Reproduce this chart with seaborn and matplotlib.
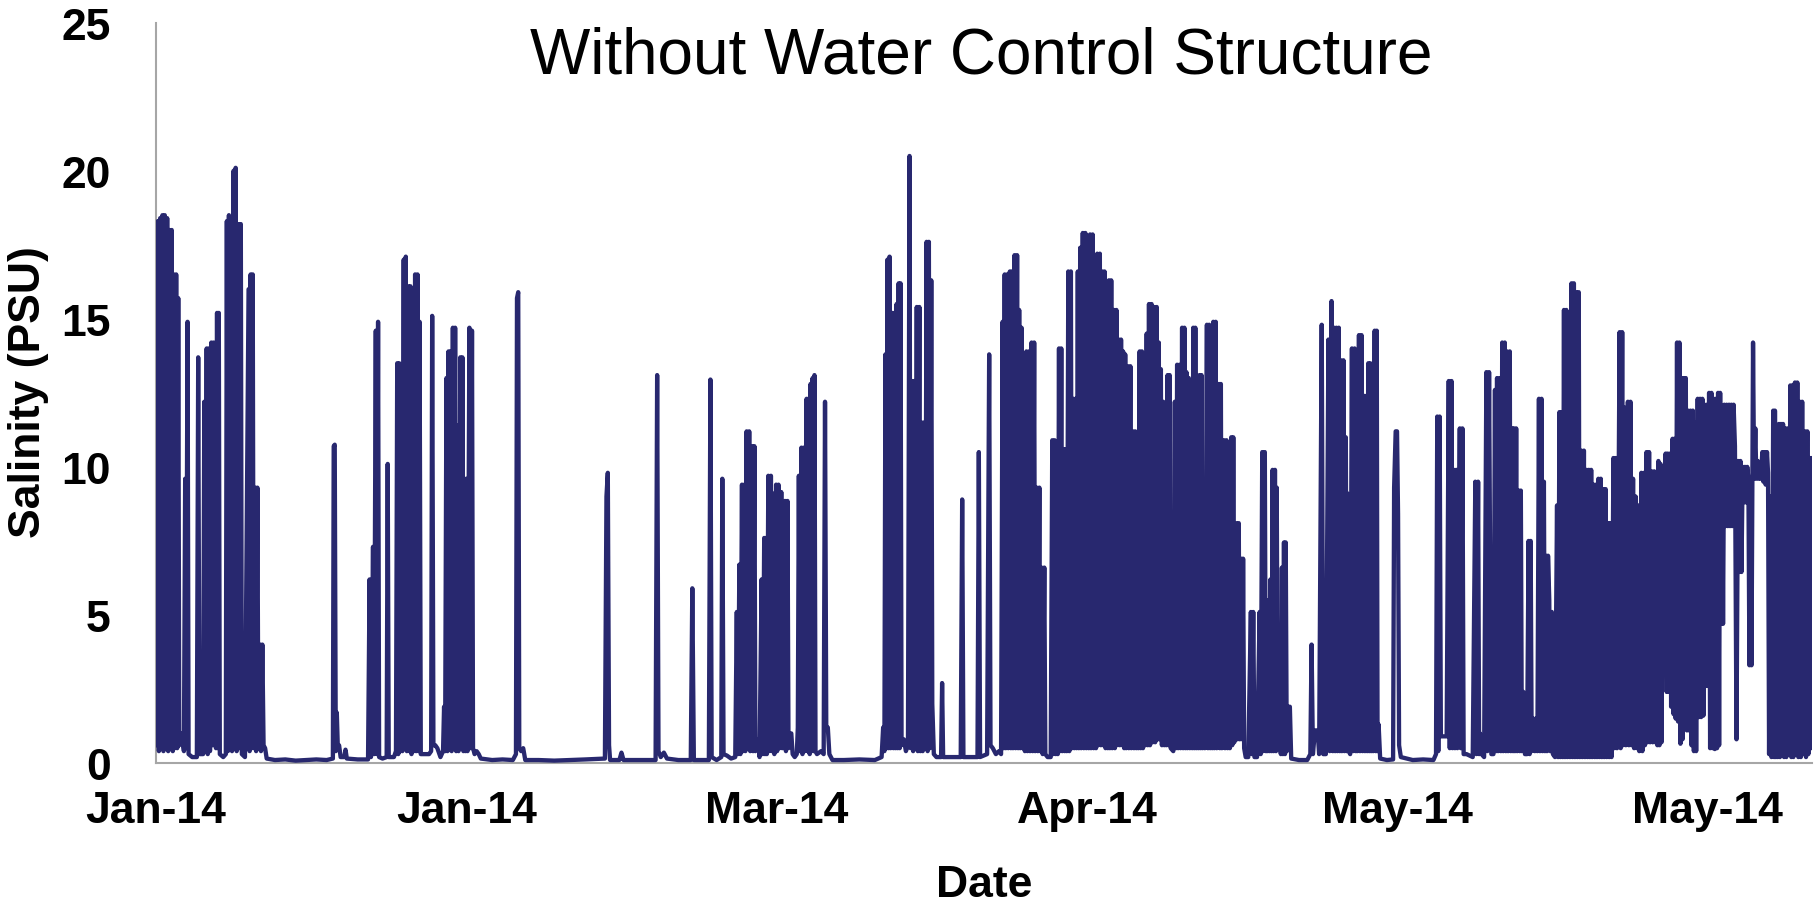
import numpy as np
import pandas as pd
import matplotlib
matplotlib.use("Agg")
import matplotlib.pyplot as plt
import seaborn as sns

# ---------------- data (day since 1 Jan 2014, salinity PSU) ----------------
early_jan = [
    (0.00, 17.9), (0.08, 0.6), (0.18, 18.3), (0.28, 0.4), (0.40, 18.4), (0.50, 0.5),
    (0.62, 18.5), (0.72, 0.4), (0.85, 18.5), (0.95, 0.5), (1.08, 18.4), (1.18, 0.4),
    (1.30, 18.0), (1.40, 0.5), (1.52, 18.0), (1.62, 0.4), (1.72, 16.5), (1.82, 0.5),
    (1.95, 16.5), (2.05, 0.5), (2.15, 15.7), (2.25, 0.6), (2.40, 1.0), (2.55, 0.8),
    (2.70, 0.4), (2.82, 9.6), (2.90, 0.5), (3.05, 14.9), (3.15, 0.3), (3.50, 0.2),
    (3.95, 0.2), (4.08, 13.7), (4.20, 0.3), (4.55, 0.3), (4.67, 12.2), (4.78, 0.4),
    (4.90, 14.0), (5.00, 0.3), (5.12, 14.0), (5.22, 0.4), (5.35, 14.2), (5.45, 0.6),
    (5.57, 14.2), (5.67, 0.8), (5.80, 0.5), (5.90, 15.2), (6.00, 0.5), (6.07, 15.2),
    (6.17, 0.3), (6.50, 0.2), (6.75, 0.3), (6.85, 18.3), (6.95, 0.4), (7.05, 18.5),
    (7.15, 0.5), (7.25, 14.4), (7.35, 0.4), (7.50, 20.0), (7.60, 0.5), (7.70, 20.1),
    (7.80, 0.4), (7.98, 18.2), (8.08, 0.5), (8.20, 18.2), (8.30, 0.3), (8.60, 0.2),
    (8.95, 16.0), (9.05, 0.4), (9.15, 16.5), (9.25, 0.5), (9.35, 16.5), (9.45, 0.5),
    (9.58, 9.3), (9.68, 0.4), (9.80, 9.3), (9.90, 0.5), (10.05, 4.0), (10.15, 0.4),
    (10.28, 4.0), (10.40, 0.6), (10.55, 0.5), (10.70, 0.15),
]
late_jan = [
    (11.5, 0.1), (12.5, 0.12), (13.5, 0.08), (14.5, 0.1), (15.5, 0.12), (16.5, 0.1),
    (17.10, 0.15), (17.18, 10.7), (17.28, 10.75), (17.38, 0.4), (17.48, 1.7), (17.58, 0.5),
    (17.70, 0.6), (17.85, 0.2), (18.20, 0.2), (18.32, 0.45), (18.45, 0.15), (19.5, 0.12),
    (20.50, 0.12), (20.65, 6.2), (20.78, 0.2), (20.98, 7.3), (21.08, 0.3), (21.25, 14.6),
    (21.35, 0.3), (21.47, 14.9), (21.57, 0.2), (21.90, 0.15), (22.30, 0.2), (22.40, 10.1),
    (22.50, 0.2), (23.00, 0.2), (23.20, 0.4), (23.32, 13.5), (23.42, 0.3), (23.52, 13.5),
    (23.62, 0.4), (23.72, 11.0), (23.82, 0.4), (23.95, 17.0), (24.05, 0.5), (24.15, 17.1),
    (24.25, 0.4), (24.40, 16.1), (24.50, 0.4), (24.60, 16.1), (24.70, 0.3), (24.82, 15.4),
    (24.92, 0.4), (25.05, 16.5), (25.15, 0.4), (25.28, 16.5), (25.38, 0.4), (25.48, 14.9),
    (25.60, 0.3), (26.00, 0.3), (26.40, 0.3), (26.60, 0.4), (26.70, 15.1), (26.82, 0.6),
    (27.00, 0.6), (27.20, 0.5), (27.50, 0.2), (27.75, 0.4),
]
february = [
    (27.85, 1.9), (27.95, 0.4), (28.08, 13.0), (28.18, 0.4), (28.28, 13.9), (28.38, 0.5),
    (28.48, 13.9), (28.58, 0.4), (28.70, 14.7), (28.80, 0.5), (28.92, 14.7), (29.02, 0.4),
    (29.15, 11.4), (29.25, 0.4), (29.42, 13.7), (29.52, 0.5), (29.62, 13.7), (29.72, 0.4),
    (29.82, 9.6), (29.92, 0.4), (30.02, 9.6), (30.12, 0.4), (30.30, 14.7), (30.42, 0.5),
    (30.55, 14.6), (30.65, 0.5), (30.80, 0.3), (31.00, 0.4), (31.20, 0.3), (31.40, 0.15),
    (32.5, 0.1), (33.5, 0.12), (34.5, 0.1), (34.80, 0.3), (34.90, 15.7), (35.02, 15.9),
    (35.12, 0.5), (35.30, 0.4), (35.50, 0.5), (35.70, 0.1), (37.0, 0.1), (38.5, 0.08),
    (40.0, 0.1), (41.5, 0.12), (43.40, 0.15), (43.55, 9.0), (43.68, 9.8), (43.80, 0.6),
    (43.90, 0.1), (44.80, 0.1), (45.00, 0.35), (45.20, 0.1), (46.5, 0.1), (48.30, 0.1),
    (48.45, 13.1), (48.58, 0.4), (48.80, 0.2), (49.10, 0.35), (49.40, 0.15), (50.5, 0.1),
    (51.70, 0.1), (51.85, 5.9), (52.00, 0.1), (53.45, 0.1), (53.60, 12.95), (53.72, 0.2),
    (54.20, 0.1), (54.65, 0.2), (54.75, 9.6), (54.87, 0.3), (55.20, 0.25), (55.60, 0.15),
    (56.00, 0.2),
]
march = [
    (56.15, 5.1), (56.25, 0.3), (56.40, 6.7), (56.50, 0.3), (56.65, 9.4), (56.75, 0.4),
    (56.88, 9.4), (56.98, 0.4), (57.10, 11.2), (57.20, 0.5), (57.35, 11.2), (57.45, 0.4),
    (57.62, 10.7), (57.72, 0.4), (57.85, 10.7), (57.95, 0.4), (58.05, 0.8), (58.20, 0.8),
    (58.35, 0.2), (58.55, 6.2), (58.65, 0.3), (58.80, 7.6), (58.88, 0.3), (58.95, 7.6),
    (59.05, 0.3), (59.20, 9.7), (59.30, 0.4), (59.45, 9.7), (59.55, 0.4), (59.68, 9.1),
    (59.78, 0.3), (59.95, 9.4), (60.05, 0.4), (60.18, 9.4), (60.28, 0.5), (60.45, 9.15),
    (60.55, 0.5), (60.80, 8.85), (60.90, 0.4), (61.05, 8.85), (61.15, 0.5), (61.30, 0.95),
    (61.42, 1.0), (61.55, 0.3), (61.75, 0.2), (61.95, 0.3), (62.05, 1.2), (62.15, 9.7),
    (62.25, 0.4), (62.40, 10.65), (62.50, 0.3), (62.62, 10.65), (62.72, 0.4), (62.90, 12.3),
    (63.00, 0.4), (63.10, 12.3), (63.20, 0.3), (63.28, 12.8), (63.38, 0.4), (63.48, 13.0),
    (63.58, 0.4), (63.66, 13.1), (63.76, 0.4), (63.90, 0.3), (64.30, 0.4), (64.55, 0.3),
    (64.68, 12.2), (64.80, 1.2), (64.95, 1.2), (65.10, 0.3), (65.40, 0.1), (66.5, 0.1),
    (68.0, 0.12), (69.5, 0.1), (70.15, 0.2), (70.30, 1.2), (70.42, 0.4), (70.52, 13.8),
    (70.62, 0.5), (70.72, 17.0), (70.82, 0.5), (70.92, 17.1), (71.02, 0.5), (71.20, 15.2),
    (71.30, 0.5), (71.40, 15.2), (71.50, 0.5), (71.60, 15.5), (71.70, 0.5), (71.80, 16.2),
    (71.90, 0.5), (71.98, 16.2), (72.08, 0.6), (72.30, 0.8), (72.50, 0.4), (72.70, 0.6),
    (72.85, 20.5), (72.95, 0.5), (73.10, 12.9), (73.20, 0.4), (73.32, 12.9), (73.42, 0.5),
    (73.55, 15.4), (73.65, 0.4), (73.80, 15.4), (73.90, 0.4), (74.02, 11.5), (74.12, 0.4),
    (74.25, 11.5), (74.35, 0.5), (74.50, 17.6), (74.60, 0.4), (74.72, 17.6), (74.82, 0.5),
    (74.95, 16.3), (75.05, 2.0), (75.20, 0.3), (75.45, 0.2), (75.90, 0.2), (76.00, 2.7),
    (76.10, 0.2), (77.00, 0.2), (77.80, 0.2), (77.94, 8.9), (78.06, 0.2), (78.80, 0.2),
    (79.42, 0.2), (79.55, 10.5), (79.67, 0.2), (80.35, 0.3), (80.55, 13.8), (80.68, 0.6),
    (80.90, 0.5), (81.20, 0.3), (81.50, 0.4), (81.70, 0.3),
]
april = [
    (81.85, 14.9), (81.95, 0.5), (82.05, 16.5), (82.15, 0.5), (82.30, 16.5), (82.40, 0.5),
    (82.55, 16.6), (82.65, 0.5), (82.75, 16.6), (82.85, 0.5), (83.00, 17.15), (83.10, 0.5),
    (83.25, 17.15), (83.35, 0.5), (83.45, 15.3), (83.55, 0.5), (83.68, 14.7), (83.78, 0.5),
    (83.90, 7.7), (84.00, 0.4), (84.15, 13.9), (84.25, 0.4), (84.40, 13.9), (84.50, 0.4),
    (84.65, 14.2), (84.75, 0.4), (84.90, 14.2), (85.00, 0.4), (85.15, 9.3), (85.25, 0.4),
    (85.40, 9.3), (85.50, 0.4), (85.62, 6.6), (85.72, 0.3), (85.88, 6.6), (85.98, 0.3),
    (86.20, 0.2), (86.50, 0.2), (86.65, 10.9), (86.75, 0.3), (86.88, 10.9), (86.98, 0.3),
    (87.08, 7.0), (87.18, 0.3), (87.30, 14.0), (87.40, 0.4), (87.52, 14.0), (87.62, 0.4),
    (87.75, 10.6), (87.85, 0.4), (87.95, 10.6), (88.05, 0.4), (88.20, 16.6), (88.30, 0.4),
    (88.45, 16.6), (88.55, 0.5), (88.68, 12.3), (88.78, 0.5), (88.90, 12.3), (89.00, 0.5),
    (89.12, 16.6), (89.22, 0.5), (89.35, 17.4), (89.45, 0.5), (89.60, 17.9), (89.70, 0.5),
    (89.85, 17.9), (89.95, 0.5), (90.08, 15.75), (90.18, 0.5), (90.30, 17.85), (90.40, 0.5),
    (90.55, 17.85), (90.65, 0.5), (90.78, 16.6), (90.88, 0.5), (91.00, 17.2), (91.10, 0.6),
    (91.25, 17.2), (91.35, 0.6), (91.48, 16.6), (91.58, 0.6), (91.70, 16.6), (91.80, 0.5),
    (91.92, 15.8), (92.02, 0.5), (92.12, 16.3), (92.22, 0.5), (92.35, 16.3), (92.45, 0.5),
    (92.60, 15.3), (92.70, 0.5), (92.85, 15.3), (92.95, 0.6), (93.08, 14.3), (93.18, 0.6),
    (93.30, 14.3), (93.40, 0.6), (93.50, 13.9), (93.60, 0.5), (93.70, 13.8), (93.80, 0.5),
    (93.95, 13.4), (94.05, 0.5), (94.20, 13.4), (94.30, 0.5), (94.45, 11.2), (94.55, 0.5),
    (94.68, 11.2), (94.78, 0.5), (94.88, 10.0), (94.98, 0.5), (95.10, 13.9), (95.20, 0.5),
    (95.32, 13.9), (95.42, 0.5), (95.55, 12.8), (95.65, 0.6), (95.78, 14.5), (95.88, 0.6),
    (96.00, 15.5), (96.10, 0.6), (96.25, 15.5), (96.35, 0.7), (96.50, 15.4), (96.60, 0.7),
    (96.75, 15.4), (96.85, 0.8), (96.95, 14.2), (97.05, 0.8), (97.15, 13.3), (97.25, 0.6),
    (97.38, 12.2), (97.48, 0.6), (97.58, 10.1), (97.68, 0.6), (97.80, 13.1), (97.90, 0.6),
    (98.00, 13.1), (98.10, 0.5), (98.35, 0.4), (98.50, 12.2), (98.60, 0.5), (98.72, 13.45),
    (98.82, 0.5), (98.95, 13.45), (99.05, 0.5), (99.20, 14.7), (99.30, 0.5), (99.42, 14.7),
    (99.52, 0.5), (99.62, 13.2), (99.72, 0.5), (99.85, 13.0), (99.95, 0.5), (100.10, 12.9),
    (100.18, 0.5), (100.28, 14.7), (100.38, 0.5), (100.48, 14.7), (100.58, 0.5), (100.68, 13.0),
    (100.78, 0.5), (100.88, 13.1), (100.98, 0.5), (101.08, 13.1), (101.18, 0.5), (101.30, 3.6),
    (101.40, 0.5), (101.60, 14.8), (101.70, 0.5), (101.82, 14.8), (101.92, 0.5), (102.02, 14.7),
    (102.12, 0.5), (102.22, 14.9), (102.32, 0.5), (102.45, 14.9), (102.55, 0.5), (102.75, 12.8),
    (102.85, 0.5), (102.95, 12.8), (103.05, 0.5), (103.25, 10.9), (103.35, 0.5), (103.50, 10.9),
    (103.60, 0.5), (103.72, 10.0), (103.82, 0.5), (103.95, 11.0), (104.05, 0.6), (104.15, 11.0),
    (104.25, 0.7), (104.45, 8.1), (104.55, 0.8), (104.68, 8.1), (104.78, 0.8), (104.92, 6.9),
    (105.02, 0.8), (105.10, 6.9), (105.20, 0.5), (105.35, 0.2), (105.60, 0.2), (105.85, 5.1),
    (105.95, 0.3), (106.08, 5.1), (106.20, 0.2), (106.45, 0.2), (106.70, 5.1), (106.80, 0.3),
    (106.95, 10.5), (107.05, 0.4), (107.20, 10.5), (107.30, 0.4), (107.38, 4.2), (107.45, 0.4),
    (107.55, 5.5), (107.65, 0.4), (107.75, 6.2), (107.85, 0.4), (107.95, 9.9), (108.05, 0.4),
    (108.18, 9.9), (108.28, 0.4), (108.35, 9.3), (108.45, 0.8), (108.60, 0.75), (108.75, 0.3),
    (108.85, 6.6), (108.95, 0.3), (109.05, 7.45), (109.15, 0.3), (109.22, 7.45), (109.32, 0.4),
    (109.50, 1.9), (109.62, 1.9), (109.75, 0.15),
]
may = [
    (110.5, 0.1), (111.30, 0.1), (111.60, 0.3), (111.72, 4.0), (111.85, 0.3), (112.05, 1.1),
    (112.30, 1.1), (112.45, 0.3), (112.70, 14.8), (112.85, 0.3), (113.10, 0.3), (113.35, 14.3),
    (113.47, 0.4), (113.65, 15.6), (113.77, 0.4), (113.90, 14.7), (114.00, 0.4), (114.12, 14.7),
    (114.22, 0.4), (114.35, 14.7), (114.45, 0.4), (114.55, 13.6), (114.65, 0.4), (114.80, 13.6),
    (114.90, 0.4), (115.03, 11.0), (115.12, 0.4), (115.22, 9.1), (115.32, 0.4), (115.45, 0.3),
    (115.62, 14.0), (115.72, 0.4), (115.88, 14.0), (115.98, 0.4), (116.06, 12.7), (116.15, 0.4),
    (116.30, 14.45), (116.40, 0.4), (116.55, 14.45), (116.65, 0.4), (116.78, 12.4), (116.88, 0.4),
    (117.02, 12.4), (117.10, 0.4), (117.20, 13.5), (117.30, 0.4), (117.40, 13.5), (117.48, 0.4),
    (117.57, 7.8), (117.67, 0.4), (117.82, 14.6), (117.92, 0.4), (118.02, 14.6), (118.10, 0.4),
    (118.20, 1.3), (118.35, 0.15), (119.00, 0.1), (119.60, 0.12), (119.70, 9.3), (119.85, 11.2),
    (119.98, 11.2), (120.08, 8.4), (120.18, 0.6), (120.35, 0.2), (121.5, 0.1), (122.5, 0.12),
    (123.50, 0.1), (123.75, 0.3), (123.87, 11.7), (123.97, 0.4), (124.10, 11.7), (124.22, 0.9),
    (124.50, 0.9), (124.78, 0.9), (124.98, 12.9), (125.08, 0.5), (125.25, 12.9), (125.35, 0.5),
    (125.48, 9.9), (125.58, 0.5), (125.72, 9.9), (125.82, 0.5), (126.05, 11.3), (126.15, 0.5),
    (126.30, 11.3), (126.42, 0.3), (126.70, 0.3), (127.00, 0.25), (127.30, 0.2), (127.55, 9.5),
    (127.65, 0.3), (127.82, 9.5), (127.92, 0.3), (128.00, 1.0), (128.15, 0.3), (128.40, 0.2),
    (128.62, 13.2), (128.72, 0.4), (128.88, 13.2), (128.99, 6.0), (129.10, 0.3), (129.30, 0.3),
    (129.45, 12.6), (129.55, 0.4), (129.65, 13.0), (129.75, 0.4), (129.92, 13.0), (130.02, 0.4),
    (130.15, 14.2), (130.25, 0.4), (130.40, 14.2), (130.50, 0.4), (130.62, 13.9), (130.72, 0.4),
    (130.88, 13.9), (130.98, 0.4), (131.12, 11.3), (131.20, 0.4), (131.28, 11.3), (131.38, 0.4),
    (131.50, 11.3), (131.60, 0.4), (131.75, 9.2), (131.85, 0.4), (131.95, 9.2), (132.05, 0.4),
    (132.20, 2.4), (132.35, 0.3), (132.55, 0.3), (132.70, 7.5), (132.80, 0.3), (132.90, 7.5),
    (133.00, 0.4), (133.17, 1.5), (133.30, 0.4), (133.42, 1.5), (133.55, 0.4), (133.70, 12.3),
    (133.80, 0.4), (133.95, 12.3), (134.05, 0.4), (134.18, 9.5), (134.28, 0.4), (134.38, 7.0),
    (134.48, 0.4), (134.58, 7.0), (134.70, 5.5), (134.80, 0.4), (134.95, 5.1), (135.05, 0.3),
    (135.25, 0.2),
]
june = [
    (135.45, 8.7), (135.55, 0.2), (135.68, 11.85), (135.78, 0.2), (135.90, 11.85), (136.00, 0.2),
    (136.12, 15.3), (136.22, 0.2), (136.35, 15.3), (136.45, 0.2), (136.60, 15.2), (136.70, 0.2),
    (136.85, 16.2), (136.95, 0.2), (137.08, 16.2), (137.18, 0.2), (137.32, 15.9), (137.42, 0.2),
    (137.55, 15.9), (137.65, 0.2), (137.80, 10.55), (137.90, 0.2), (138.05, 10.55), (138.15, 0.2),
    (138.30, 9.9), (138.40, 0.2), (138.52, 9.9), (138.62, 0.2), (138.75, 9.9), (138.85, 0.2),
    (139.00, 9.4), (139.10, 0.2), (139.22, 9.4), (139.32, 0.2), (139.45, 9.6), (139.55, 0.2),
    (139.68, 9.6), (139.78, 0.2), (139.92, 9.25), (140.02, 0.2), (140.15, 9.25), (140.25, 0.2),
    (140.40, 8.1), (140.50, 0.2), (140.60, 8.1), (140.72, 0.2), (140.90, 10.3), (141.00, 0.5),
    (141.15, 10.3), (141.25, 0.5), (141.50, 14.55), (141.60, 0.5), (141.75, 14.55), (141.85, 0.6),
    (142.00, 12.0), (142.10, 0.6), (142.30, 12.2), (142.40, 0.6), (142.55, 12.2), (142.65, 0.6),
    (142.80, 9.6), (142.90, 0.5), (143.05, 9.0), (143.15, 0.5), (143.30, 8.7), (143.40, 0.4),
    (143.60, 9.8), (143.70, 0.4), (143.85, 9.8), (143.95, 0.6), (144.10, 10.5), (144.20, 0.7),
    (144.35, 10.5), (144.45, 0.7), (144.60, 9.85), (144.70, 0.7), (144.85, 9.85), (144.95, 0.7),
    (145.05, 9.3), (145.15, 0.6), (145.25, 10.2), (145.35, 0.6), (145.45, 10.1), (145.55, 0.7),
    (145.70, 9.8), (145.78, 7.3), (145.85, 9.8), (145.95, 10.45), (146.05, 2.4), (146.15, 10.45),
    (146.25, 2.4), (146.38, 10.45), (146.48, 1.9), (146.62, 10.95), (146.72, 1.65), (146.82, 10.95),
    (146.92, 1.5), (147.05, 14.2), (147.15, 1.4), (147.28, 14.2), (147.38, 0.65), (147.48, 13.0),
    (147.58, 0.8), (147.70, 13.0), (147.80, 1.15), (147.90, 13.0), (148.00, 1.1), (148.12, 11.9),
    (148.22, 1.1), (148.35, 11.9), (148.45, 0.6), (148.58, 11.9), (148.68, 0.4), (148.80, 11.5),
    (148.90, 0.4), (149.05, 12.3), (149.15, 1.55), (149.28, 12.3), (149.38, 1.55), (149.50, 12.3),
    (149.60, 1.6), (149.72, 12.1), (149.82, 2.6), (149.95, 12.1), (150.05, 2.6), (150.15, 12.5),
    (150.25, 0.5), (150.38, 12.5), (150.48, 0.5), (150.60, 12.3), (150.70, 0.47), (150.82, 12.3),
    (150.92, 0.5), (151.02, 12.5), (151.12, 0.6), (151.22, 12.5), (151.30, 4.7), (151.40, 12.05),
    (151.50, 4.7), (151.62, 12.1), (151.72, 8.0), (151.85, 12.1), (151.95, 8.0), (152.08, 12.1),
    (152.18, 8.0), (152.30, 12.1), (152.40, 8.0), (152.52, 12.1), (152.65, 10.7), (152.80, 0.8),
    (152.95, 10.2), (153.05, 6.45), (153.18, 10.2), (153.28, 6.45), (153.40, 10.0), (153.50, 8.8),
    (153.62, 10.0), (153.72, 8.8), (153.84, 10.0), (153.95, 9.6), (154.05, 3.3), (154.15, 9.6),
    (154.25, 3.3), (154.40, 14.2), (154.50, 9.6), (154.62, 11.3), (154.72, 9.6), (154.85, 10.2),
    (154.95, 9.6), (155.05, 10.0), (155.15, 9.6), (155.30, 10.5), (155.40, 9.5), (155.52, 10.5),
    (155.62, 9.4), (155.75, 10.5), (155.85, 9.8), (155.95, 0.3), (156.08, 9.0), (156.18, 0.2),
    (156.35, 11.9), (156.45, 0.2), (156.52, 11.9), (156.60, 0.2), (156.68, 9.75), (156.78, 0.2),
    (156.90, 11.45), (157.00, 0.2), (157.10, 11.45), (157.20, 0.3), (157.30, 11.45), (157.40, 0.2),
    (157.52, 11.3), (157.62, 0.2), (157.75, 11.3), (157.85, 0.3), (158.00, 12.75), (158.10, 0.2),
    (158.20, 12.75), (158.30, 0.2), (158.45, 12.85), (158.55, 0.3), (158.68, 12.85), (158.78, 0.2),
    (158.92, 12.2), (159.02, 0.2), (159.15, 12.2), (159.25, 0.3), (159.42, 11.2), (159.52, 0.2),
    (159.65, 11.2), (159.75, 0.3), (159.90, 10.3), (160.00, 0.5), (160.10, 10.3),
]

tick_days = [0, 30, 60, 90, 120, 150]
tick_labels = ["Jan-14", "Jan-14", "Mar-14", "Apr-14", "May-14", "May-14"]
y_ticks = [0, 5, 10, 15, 20, 25]

segments = [early_jan, late_jan, february, march, april, may, june]
df = pd.DataFrame([p for seg in segments for p in seg], columns=["day", "psu"])

# ---------------- style ----------------
sns.set_style("white")
plt.rcParams["font.family"] = ["Liberation Sans", "DejaVu Sans"]

W, H = 1814, 903
fig = plt.figure(figsize=(W / 100, H / 100), dpi=100)
ax = fig.add_axes([156 / W, 1 - 764 / H, (1812 - 156) / W, (764 - 23.7) / H])

line_color = "#28286F"
sns.lineplot(data=df, x="day", y="psu", ax=ax, color=line_color, linewidth=3.1,
             estimator=None, sort=False, solid_joinstyle="round", solid_capstyle="round")

ax.set_xlim(0, 160.1)
ax.set_ylim(0, 25)
ax.set_xticks(tick_days)
ax.set_xticklabels(tick_labels)
ax.set_yticks(y_ticks)
ax.set_xlabel("")
ax.set_ylabel("")

spine_col = "#A6A6A6"
for s in ["top", "right"]:
    ax.spines[s].set_visible(False)
for s in ["left", "bottom"]:
    ax.spines[s].set_color(spine_col)
    ax.spines[s].set_linewidth(1.5)
    ax.spines[s].set_zorder(0)

ax.tick_params(axis="both", which="major", length=10.5, width=1.2, color=spine_col,
               direction="out", labelsize=32)
ax.tick_params(axis="x", pad=9)
ax.tick_params(axis="y", pad=22)
for lab in ax.get_xticklabels() + ax.get_yticklabels():
    lab.set_fontweight("bold")
    lab.set_color("black")

fig.text(981 / W, 1 - 73 / H, "Without Water Control Structure", ha="center",
         va="baseline", fontsize=46, color="black")
fig.text(984 / W, 1 - 897 / H, "Date", ha="center", va="baseline", fontsize=32,
         fontweight="bold", color="black")
fig.text(29 / W, 1 - 392 / H, "Salinity (PSU)", ha="center", va="center", rotation=90,
         fontsize=32, fontweight="bold", color="black")

fig.savefig("out.png", dpi=100)
